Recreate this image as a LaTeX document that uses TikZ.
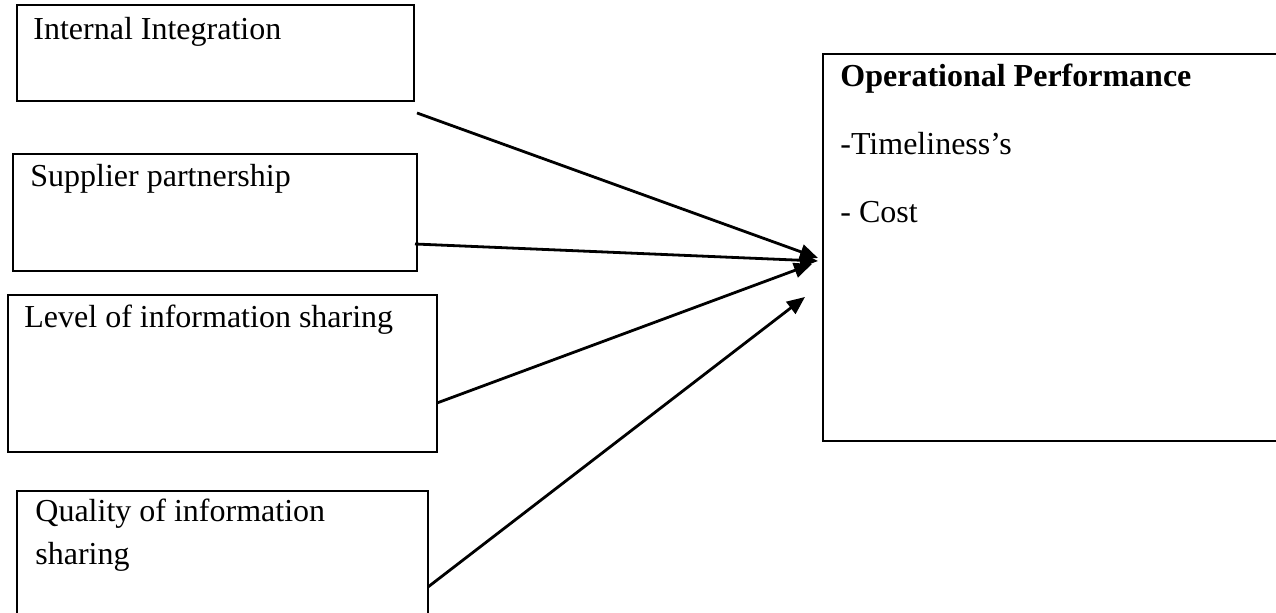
\documentclass[tikz,border=0pt]{standalone}
\usepackage{fontspec}
\setmainfont{Liberation Serif}
\usepackage{tikz}
\usetikzlibrary{calc}
\usetikzlibrary{positioning}
\usetikzlibrary{arrows.meta}
\tikzset{
  box_in/.style = {rectangle, draw=black, line width=1pt, inner sep=0pt,
    outer sep=0pt, anchor=north west},          % factor box
  box_out/.style = {box_in, line width=1.3pt},  % outcome box
  lbl/.style = {anchor=base west, inner sep=0pt, align=left,
    font=\fontsize{16}{21.5}\selectfont},       % box text, base = last line
  arr/.style = {-{Triangle[length=9pt,width=7.5pt]}, line width=1.4pt}
}

\begin{document}
\begin{tikzpicture}[x=0.5pt, y=-0.5pt]
  \useasboundingbox (0,0) rectangle (1276,613);
  % factors
  \node [box_in, minimum width=198.5pt, minimum height=48pt] (ii) at (17,5) {};
  \node [box_in, minimum width=202pt, minimum height=58.5pt] (sp) at (13,154) {};
  \node [box_in, minimum width=214.5pt, minimum height=78.5pt] (lis) at (8,295) {};
  \node [box_in, minimum width=205.5pt, minimum height=67pt] (qis) at (17,491) {};
  \node [lbl] (ii_t) at ($(ii.north west)+(16,35)$) {Internal Integration};
  \node [lbl] (sp_t) at ($(sp.north west)+(17,33)$) {Supplier partnership};
  \node [lbl] (lis_t) at ($(lis.north west)+(16,33)$) {Level of information sharing};
  \node [lbl] (qis_t) at ($(qis.north west)+(18,74)$) {Quality of information\\sharing};
  % outcome
  \node [box_out, minimum width=235pt, minimum height=193.5pt] (op) at (823,54) {};
  \node [lbl] (op_t) at ($(op.north west)+(17,169)$)
    {\textbf{Operational Performance}\\[12.5pt]-Timeliness's\\[12.5pt]- Cost};
  \coordinate (in_a) at ($(op.north west)+(-5,204)$);
  \coordinate (in_b) at ($(op.north west)+(-5,207)$);
  \coordinate (in_c) at ($(op.north west)+(-11,210)$);
  \coordinate (in_d) at ($(op.north west)+(-18,243)$);
  \draw [arr] ($(ii.south east)+(3,12)$) -- (in_a);
  \draw [arr] ($(sp.south east)+(-2,-27)$) -- (in_b);
  \draw [arr] ($(lis.south east)+(0,-49)$) -- (in_c);
  \draw [arr] ($(qis.north east)+(0,96)$) -- (in_d);
\end{tikzpicture}
\end{document}
